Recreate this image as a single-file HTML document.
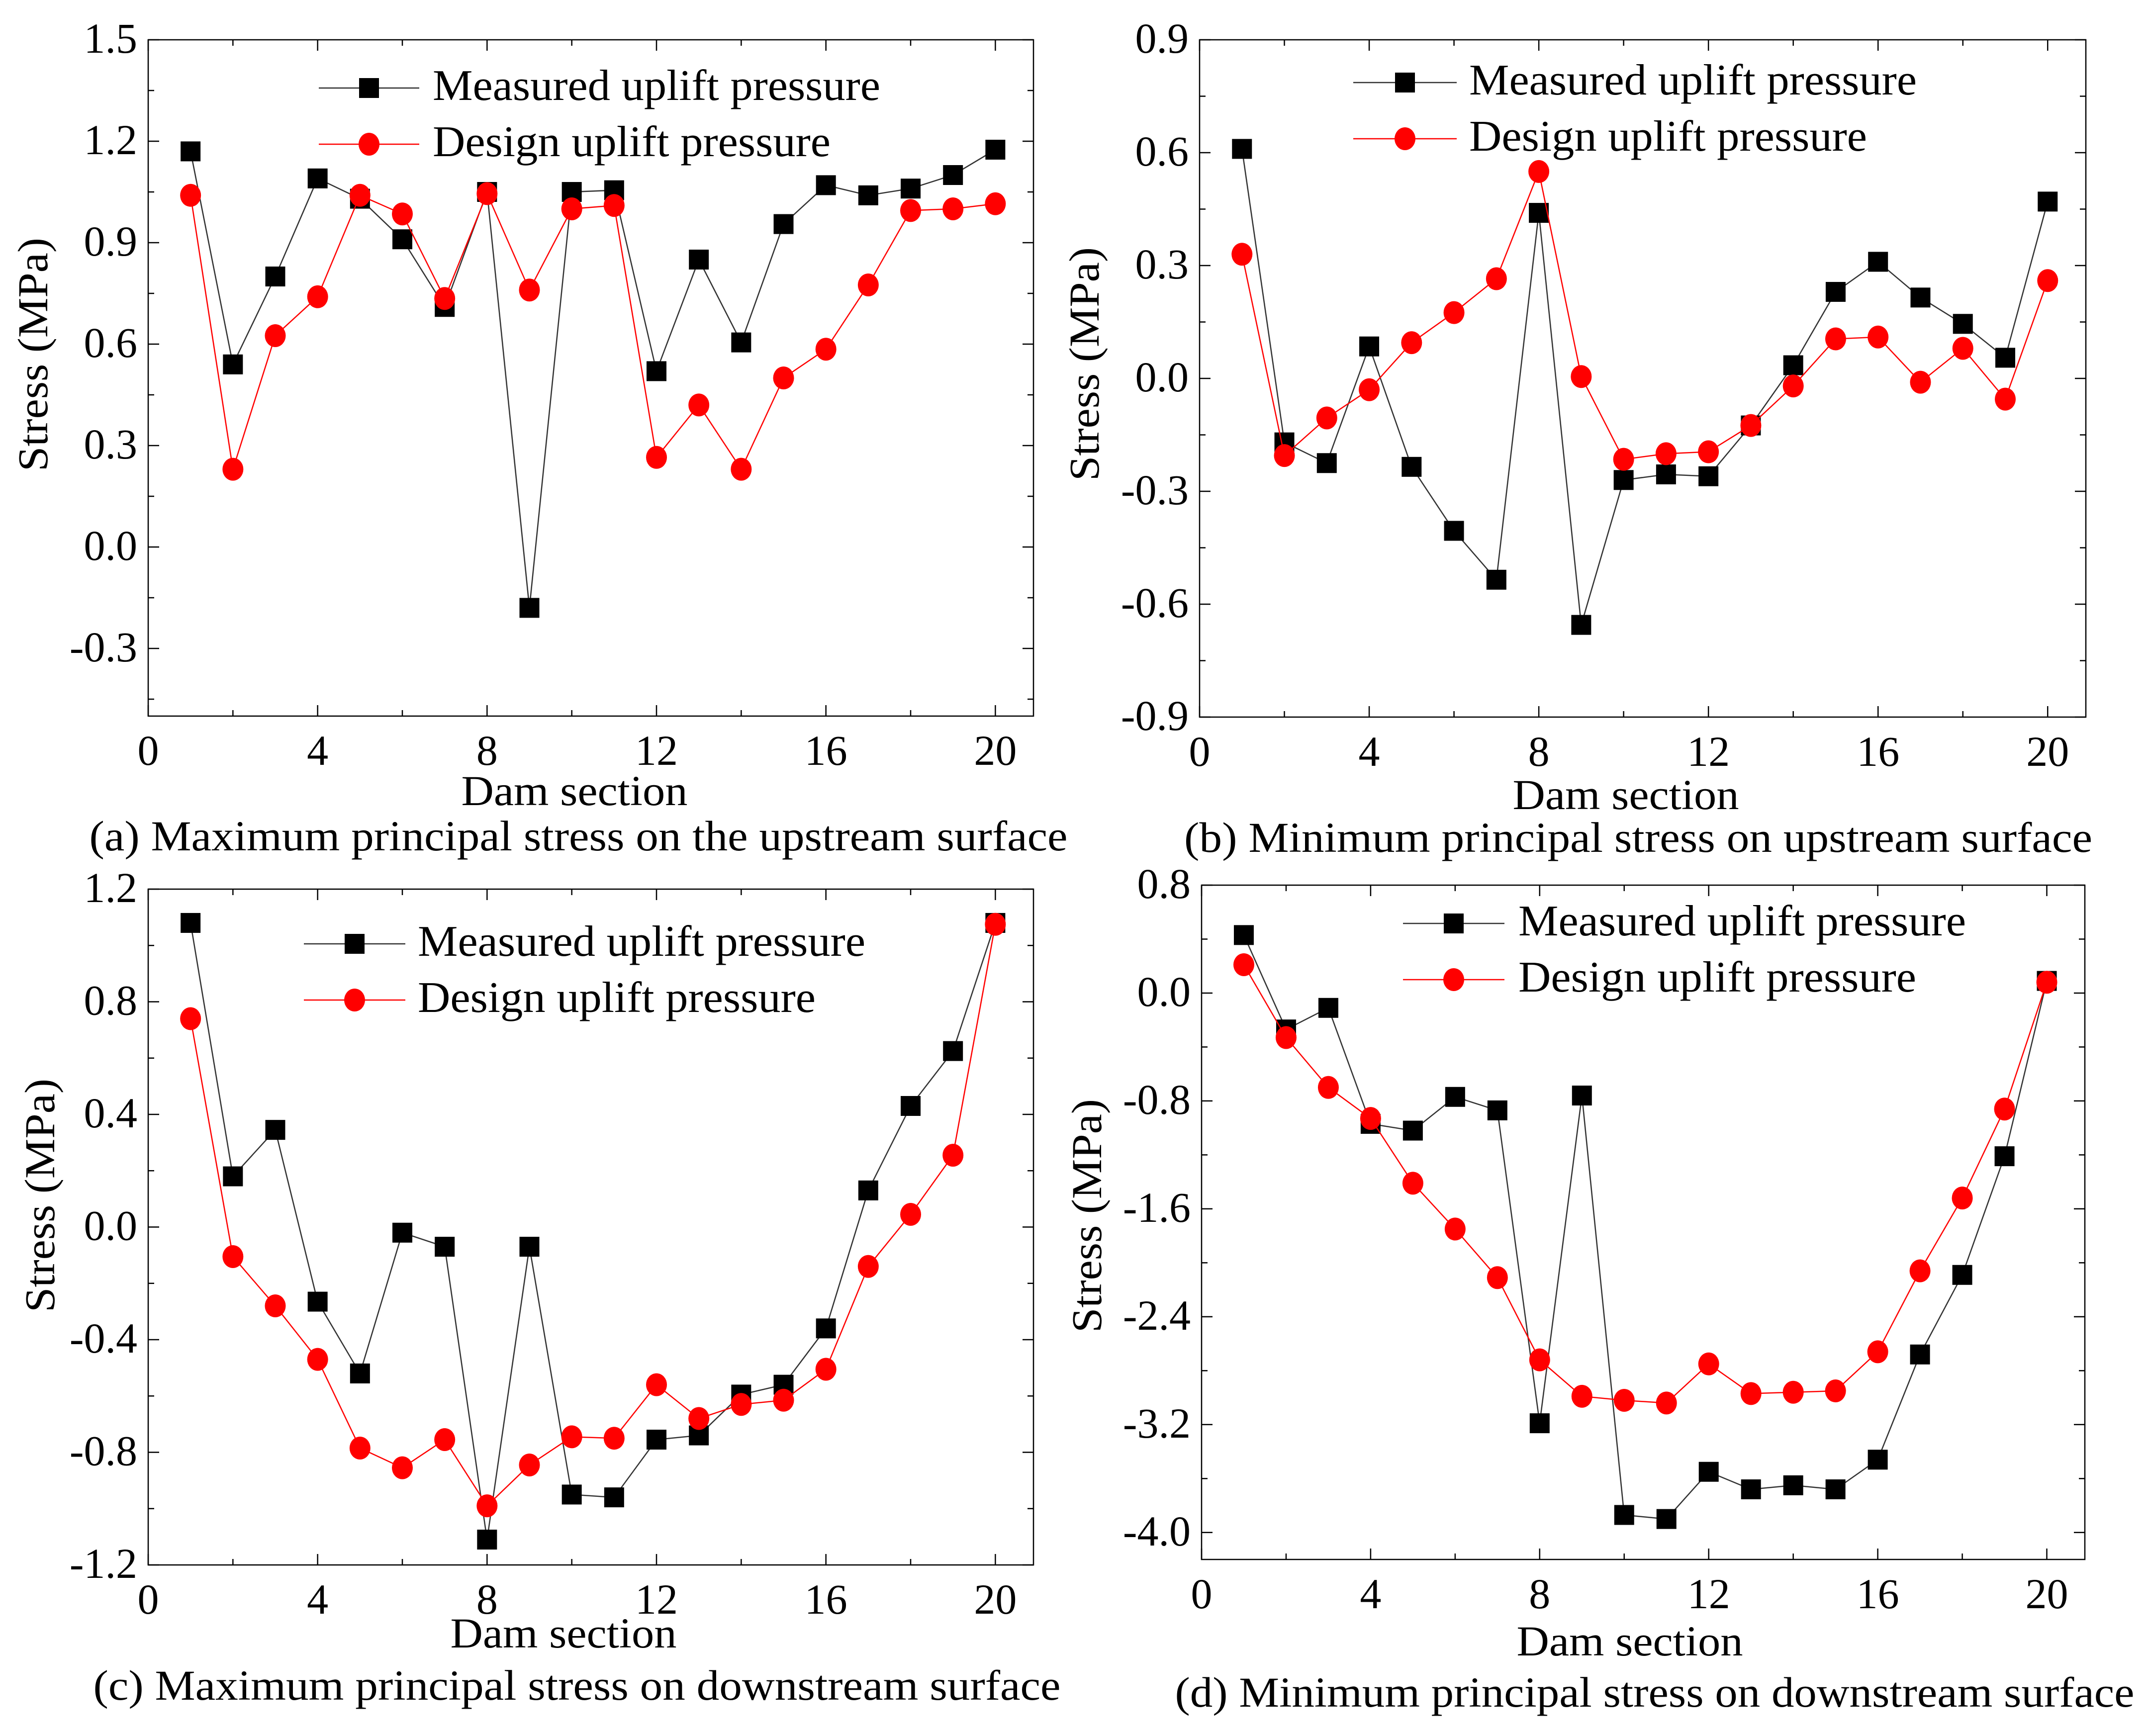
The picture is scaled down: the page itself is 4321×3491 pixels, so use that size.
<!DOCTYPE html>
<html><head><meta charset="utf-8"><style>
html,body{margin:0;padding:0;background:#fff;}
svg{display:block;font-family:"Liberation Serif",serif;}
</style></head><body>
<svg id="s" width="4321" height="3491" viewBox="0 0 4321 3491" xmlns="http://www.w3.org/2000/svg"></svg>
<script>
const sections=[1,2,3,4,5,6,7,8,9,10,11,12,13,14,15,16,17,18,19,20];
const xTicks=[0,4,8,12,16,20];
const aMeasured=[1.17,0.54,0.80,1.09,1.03,0.91,0.71,1.05,-0.18,1.05,1.055,0.52,0.85,0.605,0.955,1.07,1.04,1.06,1.10,1.175];
const aDesign=[1.04,0.23,0.625,0.74,1.04,0.985,0.735,1.045,0.76,1.0,1.01,0.265,0.42,0.23,0.50,0.585,0.775,0.995,1.0,1.015];
const aTicks=[-0.3,0.0,0.3,0.6,0.9,1.2,1.5];
const bMeasured=[0.61,-0.17,-0.225,0.085,-0.235,-0.405,-0.535,0.44,-0.655,-0.27,-0.255,-0.26,-0.125,0.035,0.23,0.31,0.215,0.145,0.055,0.47];
const bDesign=[0.33,-0.205,-0.105,-0.03,0.095,0.175,0.265,0.55,0.005,-0.215,-0.2,-0.195,-0.125,-0.02,0.105,0.11,-0.01,0.08,-0.055,0.26];
const bTicks=[-0.9,-0.6,-0.3,0.0,0.3,0.6,0.9];
const cMeasured=[1.08,0.18,0.345,-0.265,-0.52,-0.02,-0.07,-1.11,-0.07,-0.95,-0.96,-0.755,-0.74,-0.595,-0.56,-0.36,0.13,0.43,0.625,1.08];
const cDesign=[0.74,-0.105,-0.28,-0.47,-0.785,-0.855,-0.755,-0.99,-0.845,-0.745,-0.75,-0.56,-0.68,-0.63,-0.615,-0.505,-0.14,0.045,0.255,1.075];
const cTicks=[-1.2,-0.8,-0.4,0.0,0.4,0.8,1.2];
const dMeasured=[0.43,-0.27,-0.11,-0.97,-1.02,-0.77,-0.87,-3.19,-0.76,-3.87,-3.90,-3.55,-3.68,-3.65,-3.68,-3.46,-2.68,-2.09,-1.21,0.09];
const dDesign=[0.21,-0.33,-0.70,-0.93,-1.41,-1.75,-2.11,-2.72,-2.99,-3.02,-3.04,-2.75,-2.97,-2.96,-2.95,-2.66,-2.06,-1.52,-0.86,0.08];
const dTicks=[-4.0,-3.2,-2.4,-1.6,-0.8,0.0,0.8];

const NS="http://www.w3.org/2000/svg";
const svg=document.getElementById('s');
function mk(tag,attrs,parent){const e=document.createElementNS(NS,tag);for(const k in attrs)e.setAttribute(k,attrs[k]);(parent||svg).appendChild(e);return e;}

const panels=[
 {id:'a',L:298,R:2078,T:80,B:1440,ymin:-0.5,ymax:1.5,ticks:aTicks,dec:1,m:aMeasured,d:aDesign,
  leg:{x1:641,x2:843,tx:870,y1:177,y2:290},yt:{x:69,y:713},xt:{x:1155,y:1597},cap:{x:1163,y:1688,w:1967,t:"(a) Maximum principal stress on the upstream surface"}},
 {id:'b',L:2412,R:4194,T:80,B:1442,ymin:-0.9,ymax:0.9,ticks:bTicks,dec:1,m:bMeasured,d:bDesign,
  leg:{x1:2721,x2:2929,tx:2954,y1:166,y2:279},yt:{x:2183,y:732},xt:{x:3269,y:1605},cap:{x:3294,y:1691,w:1826,t:"(b) Minimum principal stress on upstream surface"}},
 {id:'c',L:298,R:2078,T:1788,B:3147,ymin:-1.2,ymax:1.2,ticks:cTicks,dec:1,m:cMeasured,d:cDesign,
  leg:{x1:611,x2:815,tx:840,y1:1898,y2:2011},yt:{x:83,y:2404},xt:{x:1133,y:3291},cap:{x:1160,y:3396,w:1945,t:"(c) Maximum principal stress on downstream surface"}},
 {id:'d',L:2416,R:4192,T:1780,B:3136,ymin:-4.2,ymax:0.8,ticks:dTicks,dec:1,m:dMeasured,d:dDesign,
  leg:{x1:2821,x2:3025,tx:3053,y1:1857,y2:1970},yt:{x:2188,y:2445},xt:{x:3277,y:3307},cap:{x:3327,y:3410,w:1929,t:"(d) Minimum principal stress on downstream surface"}}
];
const XMAX=20.9;
panels.forEach(p=>{
 const g=mk('g',{});
 
 
 const xs=v=>p.L+(v-0)/(XMAX-0)*(p.R-p.L);
 const ys=v=>p.B-(v-p.ymin)/(p.ymax-p.ymin)*(p.B-p.T);
 const box=mk('rect',{x:p.L,y:p.T,width:p.R-p.L,height:p.B-p.T,fill:'none',stroke:'#000','stroke-width':2.5},g);
 
 
 for(let v=0;v<=20;v+=2){
  const X=xs(v);const len=(v%4===0)?22:12;
  mk('line',{x1:X,y1:p.B,x2:X,y2:p.B-len,stroke:'#000','stroke-width':2.5},g);
  mk('line',{x1:X,y1:p.T,x2:X,y2:p.T+len,stroke:'#000','stroke-width':2.5},g);
 }
 xTicks.forEach(v=>{
  const t=mk('text',{x:xs(v),y:p.B+98,'font-size':86,'text-anchor':'middle'},g);
  t.textContent=v;
  
  
 });
 const step=p.ticks[1]-p.ticks[0];
 for(let i=0;i<p.ticks.length;i++){
  const v=p.ticks[i];const Y=ys(v);
  mk('line',{x1:p.L,y1:Y,x2:p.L+22,y2:Y,stroke:'#000','stroke-width':2.5},g);
  mk('line',{x1:p.R,y1:Y,x2:p.R-22,y2:Y,stroke:'#000','stroke-width':2.5},g);
  const t=mk('text',{x:p.L-22,y:Y+26,'font-size':86,'text-anchor':'end'},g);
  t.textContent=v.toFixed(p.dec);
  
  
 }
 for(let v=p.ticks[0]-step/2;v<=p.ymax+1e-9;v+=step){
  if(v<p.ymin-1e-9)continue;const Y=ys(v);
  mk('line',{x1:p.L,y1:Y,x2:p.L+12,y2:Y,stroke:'#000','stroke-width':2.5},g);
  mk('line',{x1:p.R,y1:Y,x2:p.R-12,y2:Y,stroke:'#000','stroke-width':2.5},g);
 }
 const mPts=sections.map((s,i)=>xs(s)+','+ys(p.m[i])).join(' ');
 const dPts=sections.map((s,i)=>xs(s)+','+ys(p.d[i])).join(' ');
 const ml=mk('polyline',{points:mPts,fill:'none',stroke:'#333','stroke-width':2.5},g);
 
 
 sections.forEach((s,i)=>{
  const r=mk('rect',{x:xs(s)-20,y:ys(p.m[i])-20,width:40,height:40,fill:'#000'},g);
  
  
 });
 const dl=mk('polyline',{points:dPts,fill:'none',stroke:'#f00','stroke-width':2.5},g);
 
 
 sections.forEach((s,i)=>{
  const c=mk('ellipse',{cx:xs(s),cy:ys(p.d[i]),rx:21,ry:23,fill:'#f00'},g);
  
  
 });
 const lg=p.leg;const lmid=(lg.x1+lg.x2)/2;
 mk('line',{x1:lg.x1,y1:lg.y1,x2:lg.x2,y2:lg.y1,stroke:'#333','stroke-width':2.5},g);
 mk('rect',{x:lmid-20,y:lg.y1-20,width:40,height:40,fill:'#000'},g);
 const t1=mk('text',{x:lg.tx,y:lg.y1+24,'font-size':88,textLength:900,lengthAdjust:'spacingAndGlyphs'},g);
 t1.textContent='Measured uplift pressure';
 
 
 mk('line',{x1:lg.x1,y1:lg.y2,x2:lg.x2,y2:lg.y2,stroke:'#f00','stroke-width':2.5},g);
 mk('ellipse',{cx:lmid,cy:lg.y2,rx:21,ry:23,fill:'#f00'},g);
 const t2=mk('text',{x:lg.tx,y:lg.y2+24,'font-size':88,textLength:800,lengthAdjust:'spacingAndGlyphs'},g);
 t2.textContent='Design uplift pressure';
 
 
 const yt=mk('text',{x:0,y:0,'font-size':86,'text-anchor':'middle',textLength:470,lengthAdjust:'spacingAndGlyphs',transform:`translate(${p.yt.x+26},${p.yt.y}) rotate(-90)`},g);
 yt.textContent='Stress (MPa)';
 
 
 const xt=mk('text',{x:p.xt.x,y:p.xt.y+22,'font-size':86,'text-anchor':'middle',textLength:455,lengthAdjust:'spacingAndGlyphs'},g);
 xt.textContent='Dam section';
 
 
 const cp=mk('text',{x:p.cap.x,y:p.cap.y+22,'font-size':86,'text-anchor':'middle',textLength:p.cap.w,lengthAdjust:'spacingAndGlyphs'},g);
 cp.textContent=p.cap.t;
 
 
});
</script>
</body></html>
